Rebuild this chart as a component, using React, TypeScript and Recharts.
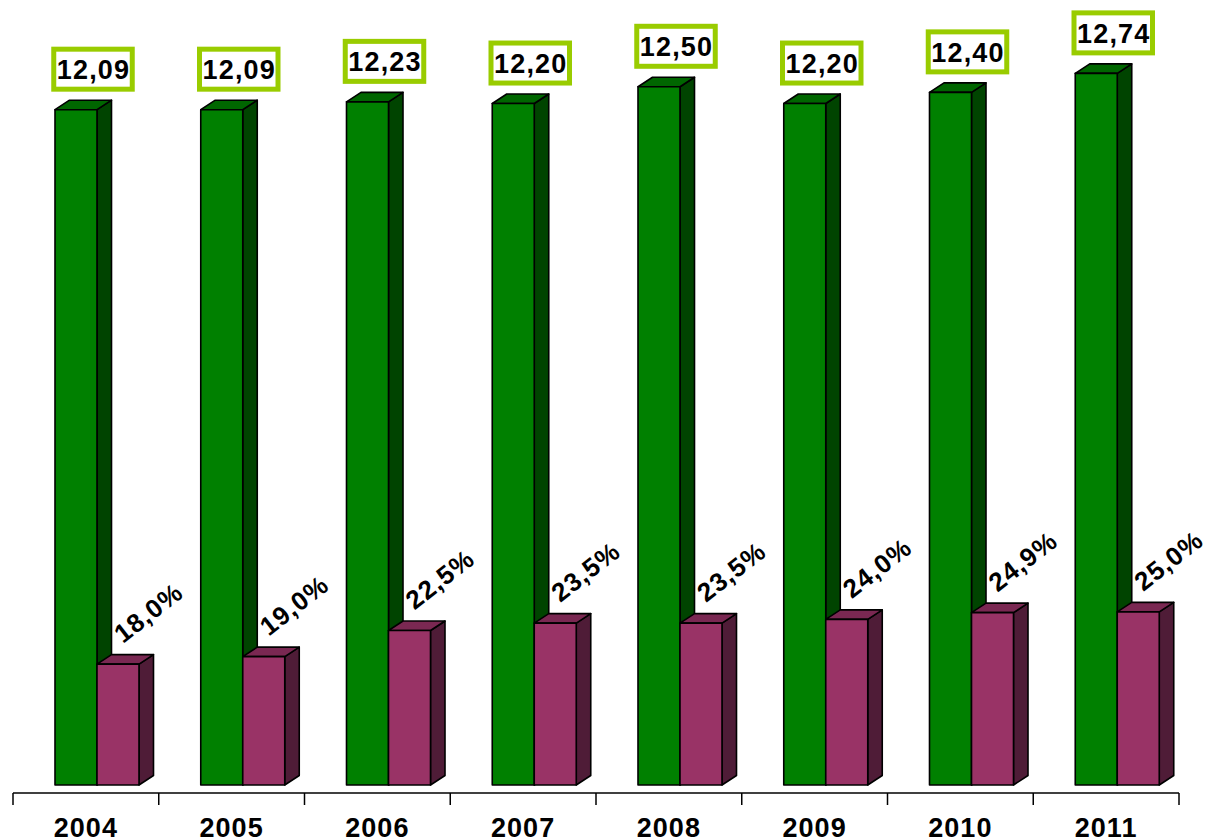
import React from 'react';
import { Bar, BarChart, LabelList, XAxis, YAxis } from 'recharts';

const years = ['2004', '2005', '2006', '2007', '2008', '2009', '2010', '2011'];
const mainValues = [12.09, 12.09, 12.23, 12.2, 12.5, 12.2, 12.4, 12.74];
const shareValues = [18.0, 19.0, 22.5, 23.5, 23.5, 24.0, 24.9, 25.0];

const data = years.map((year, i) => ({ year, main: mainValues[i], share: shareValues[i] }));

const FONT = '"Liberation Sans", Arial, Helvetica, sans-serif';
const SHIFT_X = 11;
const SHIFT_Y = -8;
const DX = 14.5;
const DY = 9.5;
const AXIS_Y = 793;

const make3D = (front: string, top: string, side: string) => (props: any) => {
  const { x, y, width, height } = props;
  if (height == null || width == null) return null;
  const fx = x + SHIFT_X;
  const fy = y + SHIFT_Y;
  const w = width;
  const h = height;
  return (
    <g stroke="#000" strokeWidth={1.6} strokeLinejoin="round">
      <polygon
        points={`${fx + w},${fy} ${fx + w + DX},${fy - DY} ${fx + w + DX},${fy + h - DY} ${fx + w},${fy + h}`}
        fill={side}
      />
      <polygon
        points={`${fx},${fy} ${fx + DX},${fy - DY} ${fx + w + DX},${fy - DY} ${fx + w},${fy}`}
        fill={top}
      />
      <rect x={fx} y={fy} width={w} height={h} fill={front} />
    </g>
  );
};

const GreenBar = make3D('#008000', '#006600', '#004400');
const PurpleBar = make3D('#993366', '#7a2852', '#4f1c37');

const MainLabel = (props: any) => {
  const { x, y, width, value } = props;
  const cx = x + SHIFT_X + width / 2 + 17;
  const bottom = y + SHIFT_Y - 18;
  const boxH = 40;
  const boxW = 78.5;
  const cy = bottom - 2.5 - boxH / 2;
  return (
    <g>
      <rect x={cx - boxW / 2} y={cy - boxH / 2} width={boxW} height={boxH} fill="#fff" stroke="#99cc00" strokeWidth={5} />
      <text x={cx + 0.5} y={cy + 9.7} textAnchor="middle" fontFamily={FONT} fontWeight="bold" fontSize={27} letterSpacing={1.2} fill="#000">
        {Number(value).toFixed(2).replace('.', ',')}
      </text>
    </g>
  );
};

const ShareLabel = (props: any) => {
  const { x, y, width, value } = props;
  const tx = x + SHIFT_X + width / 2 + 5;
  const ty = y + SHIFT_Y - 20;
  return (
    <text
      x={tx}
      y={ty}
      textAnchor="start"
      fontFamily={FONT}
      fontWeight="bold"
      fontSize={26}
      letterSpacing={1}
      fill="#000"
      transform={`rotate(-38, ${tx}, ${ty})`}
    >
      {Number(value).toFixed(1).replace('.', ',') + '%'}
    </text>
  );
};

const YearTick = (props: any) => {
  const { x, payload, index, visibleTicksCount } = props;
  const band = 145.75;
  const left = x - band / 2;
  const right = x + band / 2;
  const last = index === (visibleTicksCount ?? years.length) - 1;
  return (
    <g>
      <line x1={left} y1={AXIS_Y} x2={left} y2={AXIS_Y + 12} stroke="#000" strokeWidth={1.5} />
      {last && <line x1={right} y1={AXIS_Y} x2={right} y2={AXIS_Y + 12} stroke="#000" strokeWidth={1.5} />}
      <text x={x} y={AXIS_Y + 44} textAnchor="middle" fontFamily={FONT} fontWeight="bold" fontSize={27} letterSpacing={1} fill="#000">
        {payload.value}
      </text>
    </g>
  );
};

const App: React.FC = () => (
  <div style={{ position: 'absolute', left: 0, top: 0, width: 1211, height: 840, background: '#fff' }}>
    <BarChart
      width={1211}
      height={840}
      data={data}
      margin={{ top: 11, right: 32, bottom: 0, left: 13 }}
      barGap={0}
      barSize={42}
    >
      <XAxis
        dataKey="year"
        height={47}
        tickLine={false}
        axisLine={{ stroke: '#000', strokeWidth: 1.5 }}
        tick={<YearTick />}
        interval={0}
      />
      <YAxis yAxisId="main" hide type="number" domain={[0, 14]} allowDataOverflow />
      <YAxis yAxisId="share" hide type="number" domain={[1.8, 106.6]} allowDataOverflow />
      <Bar yAxisId="main" dataKey="main" shape={GreenBar} isAnimationActive={false}>
        <LabelList dataKey="main" content={MainLabel} />
      </Bar>
      <Bar yAxisId="share" dataKey="share" shape={PurpleBar} isAnimationActive={false}>
        <LabelList dataKey="share" content={ShareLabel} />
      </Bar>
    </BarChart>
  </div>
);

export default App;
